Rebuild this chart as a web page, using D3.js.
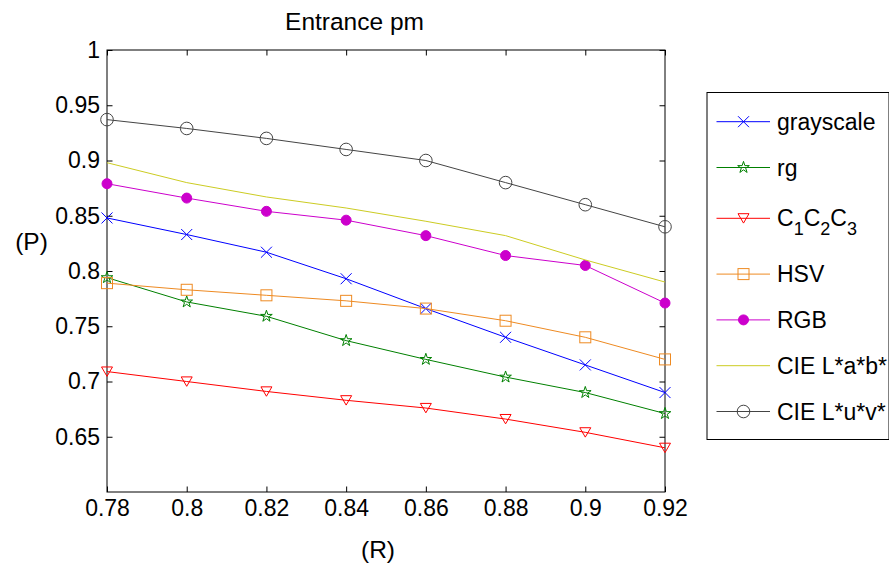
<!DOCTYPE html>
<html>
<head>
<meta charset="utf-8">
<script src="https://cdn.jsdelivr.net/npm/d3@7"></script>
<style>
  html, body { margin: 0; padding: 0; background: #fff; }
  svg { display: block; font-family: Arial, "Liberation Sans", sans-serif; }
</style>
</head>
<body>
<svg id="chart" width="889" height="564"></svg>
<script>
// ---- data ----
const rValues   = [0.78, 0.80, 0.82, 0.84, 0.86, 0.88, 0.90, 0.92];
const grayscale = [0.848, 0.833, 0.817, 0.793, 0.766, 0.740, 0.715, 0.690];
const rg        = [0.794, 0.772, 0.759, 0.737, 0.720, 0.704, 0.690, 0.671];
const c1c2c3    = [0.709, 0.700, 0.691, 0.683, 0.676, 0.666, 0.654, 0.640];
const hsv       = [0.789, 0.783, 0.778, 0.773, 0.766, 0.755, 0.740, 0.720];
const rgb       = [0.879, 0.866, 0.854, 0.846, 0.832, 0.814, 0.805, 0.771];
const cieLab    = [0.898, 0.880, 0.867, 0.857, 0.845, 0.832, 0.810, 0.790];
const cieLuv    = [0.937, 0.929, 0.920, 0.910, 0.900, 0.880, 0.860, 0.840];

const seriesNames = ["grayscale", "rg", "C1C2C3", "HSV", "RGB", "CIE L*a*b*", "CIE L*u*v*"];

const xTickValues = [0.78, 0.80, 0.82, 0.84, 0.86, 0.88, 0.90, 0.92];
const xTickLabels = ["0.78", "0.8", "0.82", "0.84", "0.86", "0.88", "0.9", "0.92"];
const yTickValues = [0.65, 0.70, 0.75, 0.80, 0.85, 0.90, 0.95, 1.00];
const yTickLabels = ["0.65", "0.7", "0.75", "0.8", "0.85", "0.9", "0.95", "1"];

const titleText = "Entrance pm";
const xLabelText = "(R)";
const yLabelText = "(P)";

// ---- styling per series ----
const seriesValues = [grayscale, rg, c1c2c3, hsv, rgb, cieLab, cieLuv];
const seriesColors = ["#0000ff", "#008000", "#ff0000", "#ee8a22", "#cc00cc", "#cccc22", "#444444"];
const seriesMarkers = ["x", "star", "tri", "square", "dot", null, "circle"];

const series = seriesNames.map((name, i) => ({
  name,
  values: seriesValues[i],
  color: seriesColors[i],
  marker: seriesMarkers[i]
}));

// ---- layout ----
const plot = { left: 107, top: 50, right: 665, bottom: 492 };
const svg = d3.select("#chart");

const x = d3.scaleLinear().domain([0.78, 0.92]).range([plot.left, plot.right]);
const y = d3.scaleLinear().domain([0.6, 1.0]).range([plot.bottom, plot.top]);

const tickFont = 23;
const tickLen = 5.5;

// ---- axes (box with inward ticks on all four sides) ----
function styleAxis(g) {
  g.select(".domain").remove();
  g.selectAll(".tick line").attr("stroke", "#000").attr("stroke-width", 1);
  g.selectAll(".tick text")
    .attr("fill", "#000")
    .style("font-size", tickFont + "px")
    .style("font-family", 'Arial, "Liberation Sans", sans-serif');
}

svg.append("g")
  .attr("transform", `translate(0,${plot.bottom})`)
  .call(d3.axisBottom(x).tickValues(xTickValues)
    .tickFormat((d, i) => xTickLabels[i])
    .tickSizeInner(-tickLen).tickSizeOuter(0).tickPadding(8))
  .call(styleAxis);

svg.append("g")
  .attr("transform", `translate(0,${plot.top})`)
  .call(d3.axisTop(x).tickValues(xTickValues)
    .tickFormat("")
    .tickSizeInner(-tickLen).tickSizeOuter(0))
  .call(styleAxis);

svg.append("g")
  .attr("transform", `translate(${plot.left},0)`)
  .call(d3.axisLeft(y).tickValues(yTickValues)
    .tickFormat((d, i) => yTickLabels[i])
    .tickSizeInner(-tickLen).tickSizeOuter(0).tickPadding(7))
  .call(styleAxis);

svg.append("g")
  .attr("transform", `translate(${plot.right},0)`)
  .call(d3.axisRight(y).tickValues(yTickValues)
    .tickFormat("")
    .tickSizeInner(-tickLen).tickSizeOuter(0))
  .call(styleAxis);

svg.append("rect")
  .attr("x", plot.left).attr("y", plot.top)
  .attr("width", plot.right - plot.left).attr("height", plot.bottom - plot.top)
  .attr("fill", "none").attr("stroke", "#000").attr("stroke-width", 1);

// ---- markers ----
function drawMarker(g, type, color) {
  if (!type) return;
  if (type === "x") {
    g.append("path").attr("d", "M-5.5,-5.5L5.5,5.5M-5.5,5.5L5.5,-5.5")
      .attr("stroke", color).attr("stroke-width", 1).attr("fill", "none");
  } else if (type === "star") {
    g.append("path").attr("d", d3.symbol(d3.symbolStar, 42)())
      .attr("stroke", color).attr("stroke-width", 1).attr("fill", "none");
  } else if (type === "tri") {
    g.append("path").attr("d", "M-5.5,-4.6L5.5,-4.6L0,4.8Z")
      .attr("stroke", color).attr("stroke-width", 1).attr("fill", "none");
  } else if (type === "square") {
    g.append("rect").attr("x", -5.5).attr("y", -5.5).attr("width", 11).attr("height", 11)
      .attr("stroke", color).attr("stroke-width", 1).attr("fill", "none");
  } else if (type === "dot") {
    g.append("circle").attr("r", 5).attr("fill", color).attr("stroke", color);
  } else if (type === "circle") {
    g.append("circle").attr("r", 6.3)
      .attr("stroke", color).attr("stroke-width", 1).attr("fill", "none");
  }
}

// ---- series lines and markers ----
const line = d3.line().x((d, i) => x(rValues[i])).y(d => y(d));

series.forEach(s => {
  const g = svg.append("g").attr("class", "series");
  g.append("path")
    .attr("d", line(s.values))
    .attr("fill", "none")
    .attr("stroke", s.color)
    .attr("stroke-width", 1);
  s.values.forEach((v, i) => {
    const m = g.append("g").attr("transform", `translate(${x(rValues[i])},${y(v)})`);
    drawMarker(m, s.marker, s.color);
  });
});

// ---- title and axis labels ----
svg.append("text")
  .attr("x", 354.5).attr("y", 29.5)
  .attr("text-anchor", "middle")
  .style("font-size", "24.5px")
  .text(titleText);

svg.append("text")
  .attr("x", 378).attr("y", 558)
  .attr("text-anchor", "middle")
  .style("font-size", "24.5px")
  .text(xLabelText);

svg.append("text")
  .attr("x", 31.5).attr("y", 250)
  .attr("text-anchor", "middle")
  .style("font-size", "24.5px")
  .text(yLabelText);

// ---- legend ----
const legend = { x: 707, y: 92.5, w: 182, h: 347 };
svg.append("rect")
  .attr("x", legend.x).attr("y", legend.y)
  .attr("width", legend.w).attr("height", legend.h)
  .attr("fill", "#fff").attr("stroke", "#000").attr("stroke-width", 1);

const rowStep = 45.8;
let rowY = 121.7;
series.forEach((s, i) => {
  const hasSub = /\d/.test(s.name) && s.name.startsWith("C");
  if (hasSub && i > 0) rowY += 5;
  const g = svg.append("g").attr("transform", `translate(0,${rowY})`);
  g.append("line")
    .attr("x1", 716.5).attr("x2", 770)
    .attr("y1", 0).attr("y2", 0)
    .attr("stroke", s.color).attr("stroke-width", 1);
  const m = g.append("g").attr("transform", "translate(743.5,0)");
  drawMarker(m, s.marker, s.color);

  const t = g.append("text")
    .attr("x", 777).attr("y", 8)
    .style("font-size", tickFont + "px")
    .attr("fill", "#000");
  if (hasSub) {
    // letters on the baseline, digits as subscripts
    const parts = s.name.match(/[A-Za-z]+|\d+/g);
    let lowered = false;
    parts.forEach(p => {
      const isNum = /^\d+$/.test(p);
      const span = t.append("tspan").text(p);
      if (isNum && !lowered) { span.attr("dy", 9).style("font-size", "18px"); lowered = true; }
      else if (isNum) { span.style("font-size", "18px"); }
      else if (lowered) { span.attr("dy", -9); lowered = false; }
    });
    rowY += 10;
  } else {
    t.text(s.name);
  }
  rowY += rowStep;
});
</script>
</body>
</html>
